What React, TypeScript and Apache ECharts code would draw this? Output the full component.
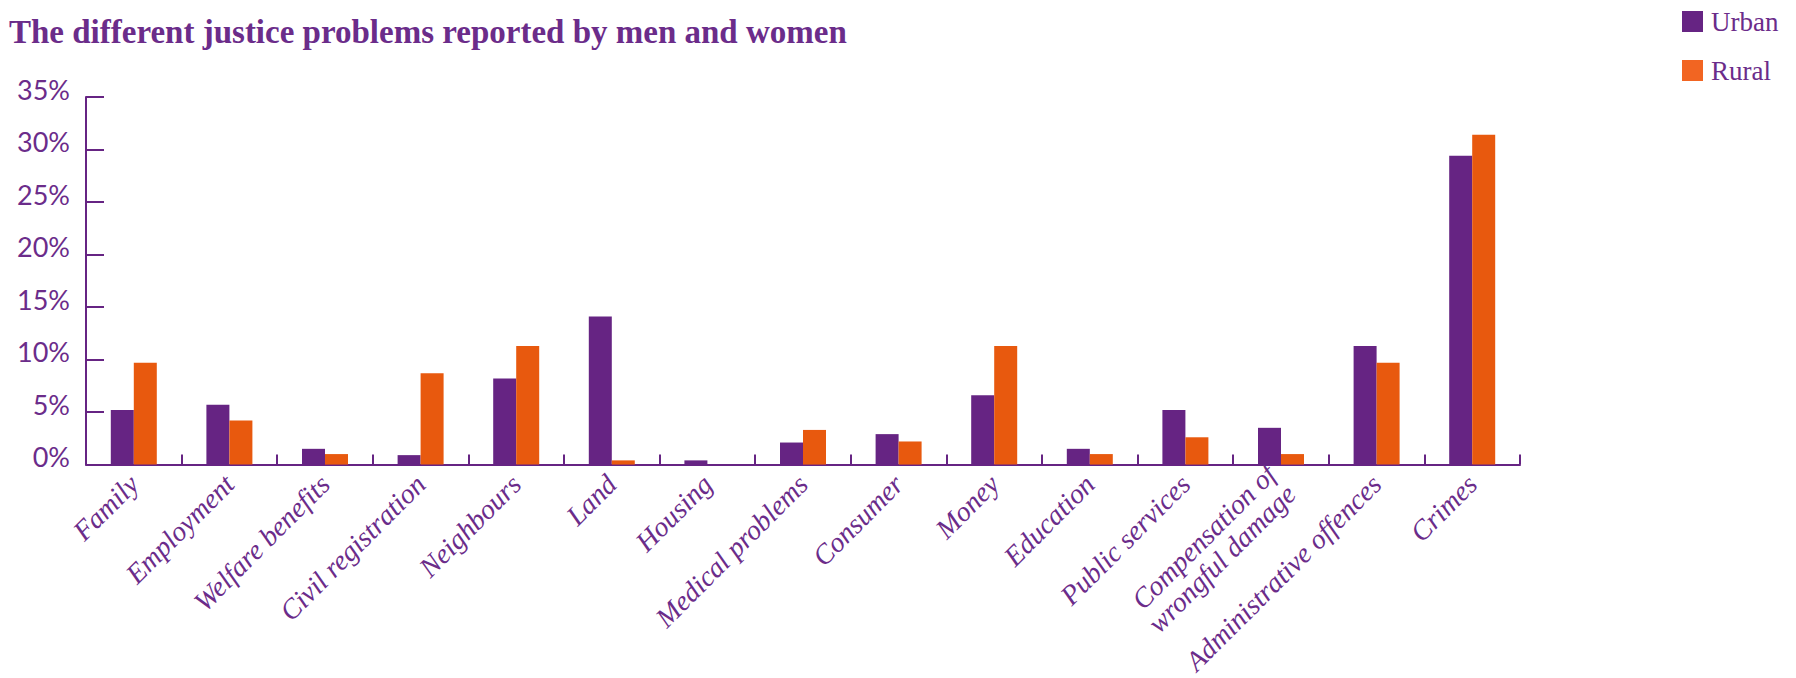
import React, { useEffect, useRef } from "react";
import * as echarts from "echarts";

const categories = [
  "Family",
  "Employment",
  "Welfare benefits",
  "Civil registration",
  "Neighbours",
  "Land",
  "Housing",
  "Medical problems",
  "Consumer",
  "Money",
  "Education",
  "Public services",
  "Compensation of\nwrongful damage",
  "Administrative offences",
  "Crimes",
];

const urban = [5.2, 5.7, 1.5, 0.9, 8.2, 14.1, 0.4, 2.1, 2.9, 6.6, 1.5, 5.2, 3.5, 11.3, 29.4];
const rural = [9.7, 4.2, 1.0, 8.7, 11.3, 0.4, 0, 3.3, 2.2, 11.3, 1.0, 2.6, 1.0, 9.7, 31.4];

const yTicks = { min: 0, max: 35, interval: 5 };

const PURPLE = "#662483";
const ORANGE = "#E8590E";
const LEGEND_ORANGE = "#F26522";
const TEXT = "#6B2C8A";
const SERIF = "'Liberation Serif', 'DejaVu Serif', serif";

export default function App() {
  const ref = useRef<HTMLDivElement>(null);
  useEffect(() => {
    const chart = echarts.init(ref.current!, null, { renderer: "svg" });
    chart.setOption({
      animation: false,
      backgroundColor: "#ffffff",
      title: {
        text: "The different justice problems reported by men and women",
        left: 4,
        top: 10,
        textStyle: {
          fontFamily: SERIF,
          fontWeight: "bold",
          fontSize: 33,
          color: TEXT,
        },
      },
      legend: {
        orient: "vertical",
        left: 1682,
        top: 8,
        padding: 0,
        itemWidth: 21,
        itemHeight: 21,
        itemGap: 22,
        icon: "rect",
        data: [
          { name: "Urban", itemStyle: { color: PURPLE } },
          { name: "Rural", itemStyle: { color: LEGEND_ORANGE } },
        ],
        textStyle: {
          fontFamily: SERIF,
          fontSize: 27,
          color: TEXT,
          lineHeight: 21,
          height: 21,
          padding: [0, 0, 0, 3],
        },
      },
      grid: {
        left: 86,
        right: 276,
        top: 97,
        bottom: 212,
        containLabel: false,
      },
      xAxis: {
        type: "category",
        data: categories,
        axisLine: { show: true, lineStyle: { color: PURPLE, width: 2 } },
        axisTick: {
          show: true,
          inside: true,
          length: 10,
          alignWithLabel: false,
          lineStyle: { color: PURPLE, width: 2 },
        },
        axisLabel: {
          interval: 0,
          rotate: 45,
          margin: 15,
          fontFamily: SERIF,
          fontStyle: "italic",
          fontSize: 28,
          color: TEXT,
          lineHeight: 28,
        },
        splitLine: { show: false },
      },
      yAxis: {
        type: "value",
        min: yTicks.min,
        max: yTicks.max,
        interval: yTicks.interval,
        axisLine: { show: true, lineStyle: { color: PURPLE, width: 2 } },
        axisTick: {
          show: true,
          inside: true,
          length: 18,
          lineStyle: { color: PURPLE, width: 2 },
        },
        splitLine: { show: false },
        axisLabel: {
          formatter: "{value}%",
          margin: 16,
          fontFamily: "Lato, 'Open Sans', sans-serif",
          fontSize: 27,
          color: TEXT,
          verticalAlign: "bottom",
          lineHeight: 16,
        },
      },
      series: [
        {
          name: "Urban",
          type: "bar",
          data: urban,
          barWidth: 23,
          barGap: "0%",
          itemStyle: { color: PURPLE },
        },
        {
          name: "Rural",
          type: "bar",
          data: rural,
          barWidth: 23,
          barGap: "0%",
          itemStyle: { color: ORANGE },
        },
      ],
    });
    return () => chart.dispose();
  }, []);
  return (
    <div
      ref={ref}
      style={{ position: "fixed", left: 0, top: 0, width: 1796, height: 678 }}
    />
  );
}
